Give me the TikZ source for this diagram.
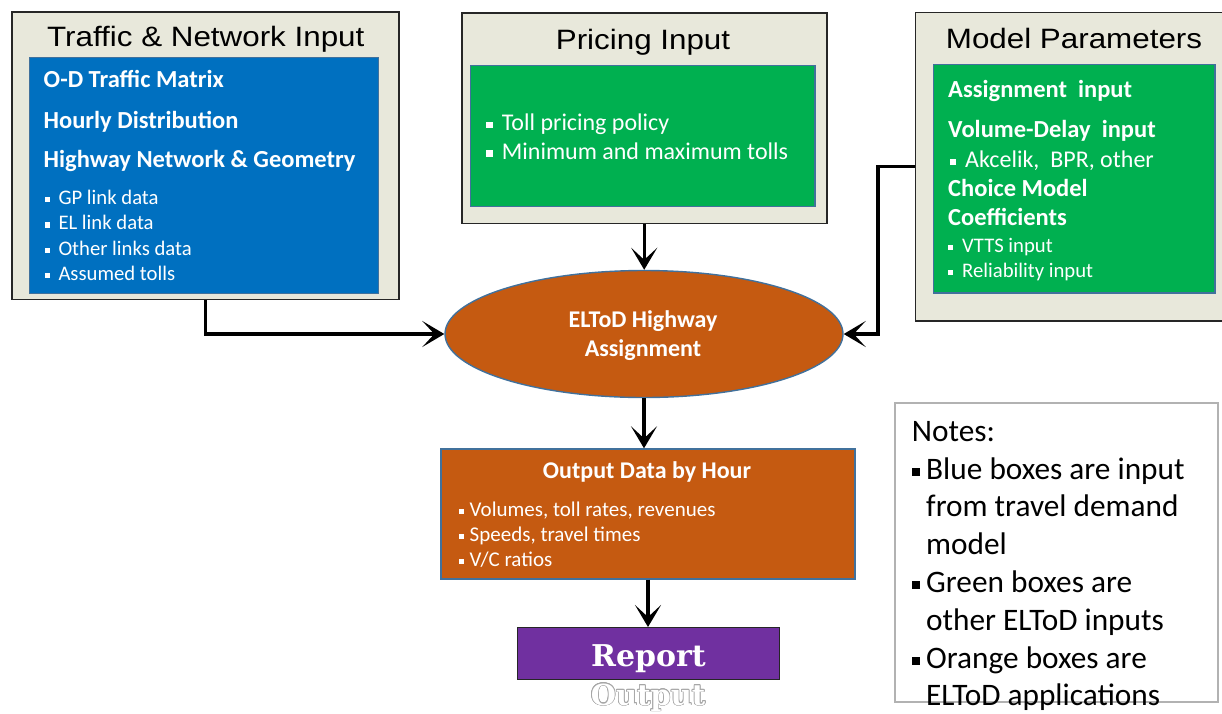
\documentclass[tikz,border=0pt]{standalone}
\usepackage{fontspec}
\setmainfont{Carlito}
\newfontfamily\titlefont[FakeStretch=1.12]{Liberation Sans}
\newfontfamily\repfont{DejaVu Serif}
\usepackage{contour}
\contourlength{0.7pt}
\usetikzlibrary{shapes.geometric,arrows.meta}
\definecolor{beige}{RGB}{232,232,219}
\definecolor{boxblue}{HTML}{0070C0}
\definecolor{boxgreen}{HTML}{00B050}
\definecolor{boxorange}{HTML}{C55A11}
\definecolor{boxpurple}{HTML}{7030A0}
\definecolor{edgeblue}{HTML}{41719C}
\newcommand\fsz[1]{\fontsize{#1}{#1}\selectfont}
\newcommand\bsq[2]{\makebox[#1][l]{\raisebox{\dimexpr0.233em-#2/2\relax}{\rule{#2}{#2}}}}
\tikzset{
  outerbox/.style={draw=black!85, line width=1.6pt, fill=beige, inner sep=0pt},
  innerbox/.style={draw=edgeblue, line width=1.4pt, inner sep=0pt},
  tx/.style={anchor=base west, inner sep=0pt, text=white, font=\fsz{24}},
  hd/.style={tx, font=\fsz{24.5}\bfseries},
  sm/.style={tx, font=\fsz{20.7}},
  ttl/.style={anchor=base, inner sep=0pt, font=\titlefont\fsz{28}},
  nt/.style={anchor=base west, inner sep=0pt, text=black, font=\fsz{31.3}},
  arr/.style={line width=3.2pt, -{Stealth[length=22pt,width=26pt,inset=12pt]}}
}
\begin{document}
\begin{tikzpicture}[x=1pt,y=-1pt]
\useasboundingbox (0,0) rectangle (1222,713);
% outer boxes
\node[outerbox, minimum width=387.3pt, minimum height=287.6pt] (traffic) at (205.35,155.5) {};
\node[outerbox, minimum width=365pt, minimum height=210.6pt] (pricing) at (644.2,118) {};
\node[outerbox, minimum width=310.5pt, minimum height=308.4pt] (model) at (1070.75,166.5) {};
% inner boxes
\node[innerbox, fill=boxblue, minimum width=349pt, minimum height=236pt] (bluebox) at (203.8,175.3) {};
\node[innerbox, fill=boxgreen, minimum width=344.3pt, minimum height=141pt] (pgreen) at (642.85,136.2) {};
\node[innerbox, fill=boxgreen, minimum width=281.7pt, minimum height=228.7pt] (mgreen) at (1074.15,178.65) {};
% titles
\node[ttl] (t1) at (205.8,46.5) {Traffic \& Network Input};
\node[ttl] (t2) at (643,49) {Pricing Input};
\node[ttl] (t3) at (1074,48.5) {Model Parameters};
% blue box text
\node[hd] (b1) at (43.5,87.3) {O-D Traffic Matrix};
\node[hd] (b2) at (43.5,128.3) {Hourly Distribution};
\node[hd] (b3) at (43.5,167.7) {Highway Network \& Geometry};
\node[sm] (b4) at (44.3,204.5) {\bsq{14pt}{5.5pt}GP link data};
\node[sm] (b5) at (44.3,229.8) {\bsq{14pt}{5.5pt}EL link data};
\node[sm] (b6) at (44.3,255.1) {\bsq{14pt}{5.5pt}Other links data};
\node[sm] (b7) at (44.3,280.4) {\bsq{14pt}{5.5pt}Assumed tolls};
% pricing text
\node[tx] (p1) at (486,130.8) {\bsq{15.7pt}{6.5pt}Toll pricing policy};
\node[tx] (p2) at (486,159.2) {\bsq{15.7pt}{6.5pt}Minimum and maximum tolls};
% model text
\node[hd] (m1) at (948,97.5) {Assignment\ \ input};
\node[hd] (m2) at (948,137.5) {Volume-Delay\ \ input};
\node[tx] (m3) at (950,167.2) {\bsq{15pt}{6pt}Akcelik,\ \ BPR, other};
\node[hd] (m4) at (948,196) {Choice Model};
\node[hd] (m5) at (948,225.5) {Coefficients};
\node[sm] (m6) at (948,252) {\bsq{14pt}{5pt}VTTS input};
\node[sm] (m7) at (948,277) {\bsq{14pt}{5pt}Reliability input};
% ellipse
\node[ellipse, draw=edgeblue, line width=1.4pt, fill=boxorange, minimum width=398pt, minimum height=127pt, inner sep=0pt] (ell) at (644,334) {};
\node[anchor=base, inner sep=0pt, text=white, font=\fsz{24}\bfseries] (e1) at (643,327.5) {ELToD Highway};
\node[anchor=base, inner sep=0pt, text=white, font=\fsz{24}\bfseries] (e2) at (643,356.5) {Assignment};
% output box
\node[innerbox, fill=boxorange, minimum width=414pt, minimum height=130pt] (out) at (648,514) {};
\node[anchor=base, inner sep=0pt, text=white, font=\fsz{24}\bfseries] (o0) at (647,478.8) {Output Data by Hour};
\node[tx, font=\fsz{21}] (o1) at (459,516) {\bsq{10.5pt}{5pt}Volumes, toll rates, revenues};
\node[tx, font=\fsz{21}] (o2) at (459,541) {\bsq{10.5pt}{5pt}Speeds, travel times};
\node[tx, font=\fsz{21}] (o3) at (459,566) {\bsq{10.5pt}{5pt}V/C ratios};
% report
\node[draw=black!85, line width=1.4pt, fill=boxpurple, minimum width=261.6pt, minimum height=51.6pt, inner sep=0pt] (report) at (648.5,653.5) {};
\node[anchor=base, inner sep=0pt, text=white, font=\repfont\bfseries\fsz{30}] (rep) at (648.5,666.7) {Report};
\node[anchor=base, inner sep=0pt, font=\repfont\bfseries\fsz{29}] (outp) at (648,705) {\contour{black!35}{\textcolor{white}{Output}}};
% notes
\node[draw=black!30, line width=1.4pt, fill=white, minimum width=323pt, minimum height=299pt, inner sep=0pt] (notes) at (1056.5,552.5) {};
\node[nt] (n0) at (911.7,441) {Notes:};
\node[nt] (n1) at (912,479) {\bsq{14pt}{8pt}Blue boxes are input};
\node[nt] (n2) at (926,516.8) {from travel demand};
\node[nt] (n3) at (926,554.6) {model};
\node[nt] (n4) at (912,592.4) {\bsq{14pt}{8pt}Green boxes are};
\node[nt] (n5) at (926,630.2) {other ELToD inputs};
\node[nt] (n6) at (912,668) {\bsq{14pt}{8pt}Orange boxes are};
\node[nt] (n7) at (926,705.8) {ELToD applications};
% connectors
\coordinate (mbend) at (878,166.5);
\draw[arr] (traffic.south) |- (ell.west);
\draw[arr] (pricing.south) -- (pricing.south |- ell.north);
\draw[arr] (model.west) -- (mbend) |- (ell.east);
\draw[arr] (ell.south) -- (ell.south |- out.north);
\draw[arr] (out.south) -- (out.south |- report.north);
\end{tikzpicture}
\end{document}
